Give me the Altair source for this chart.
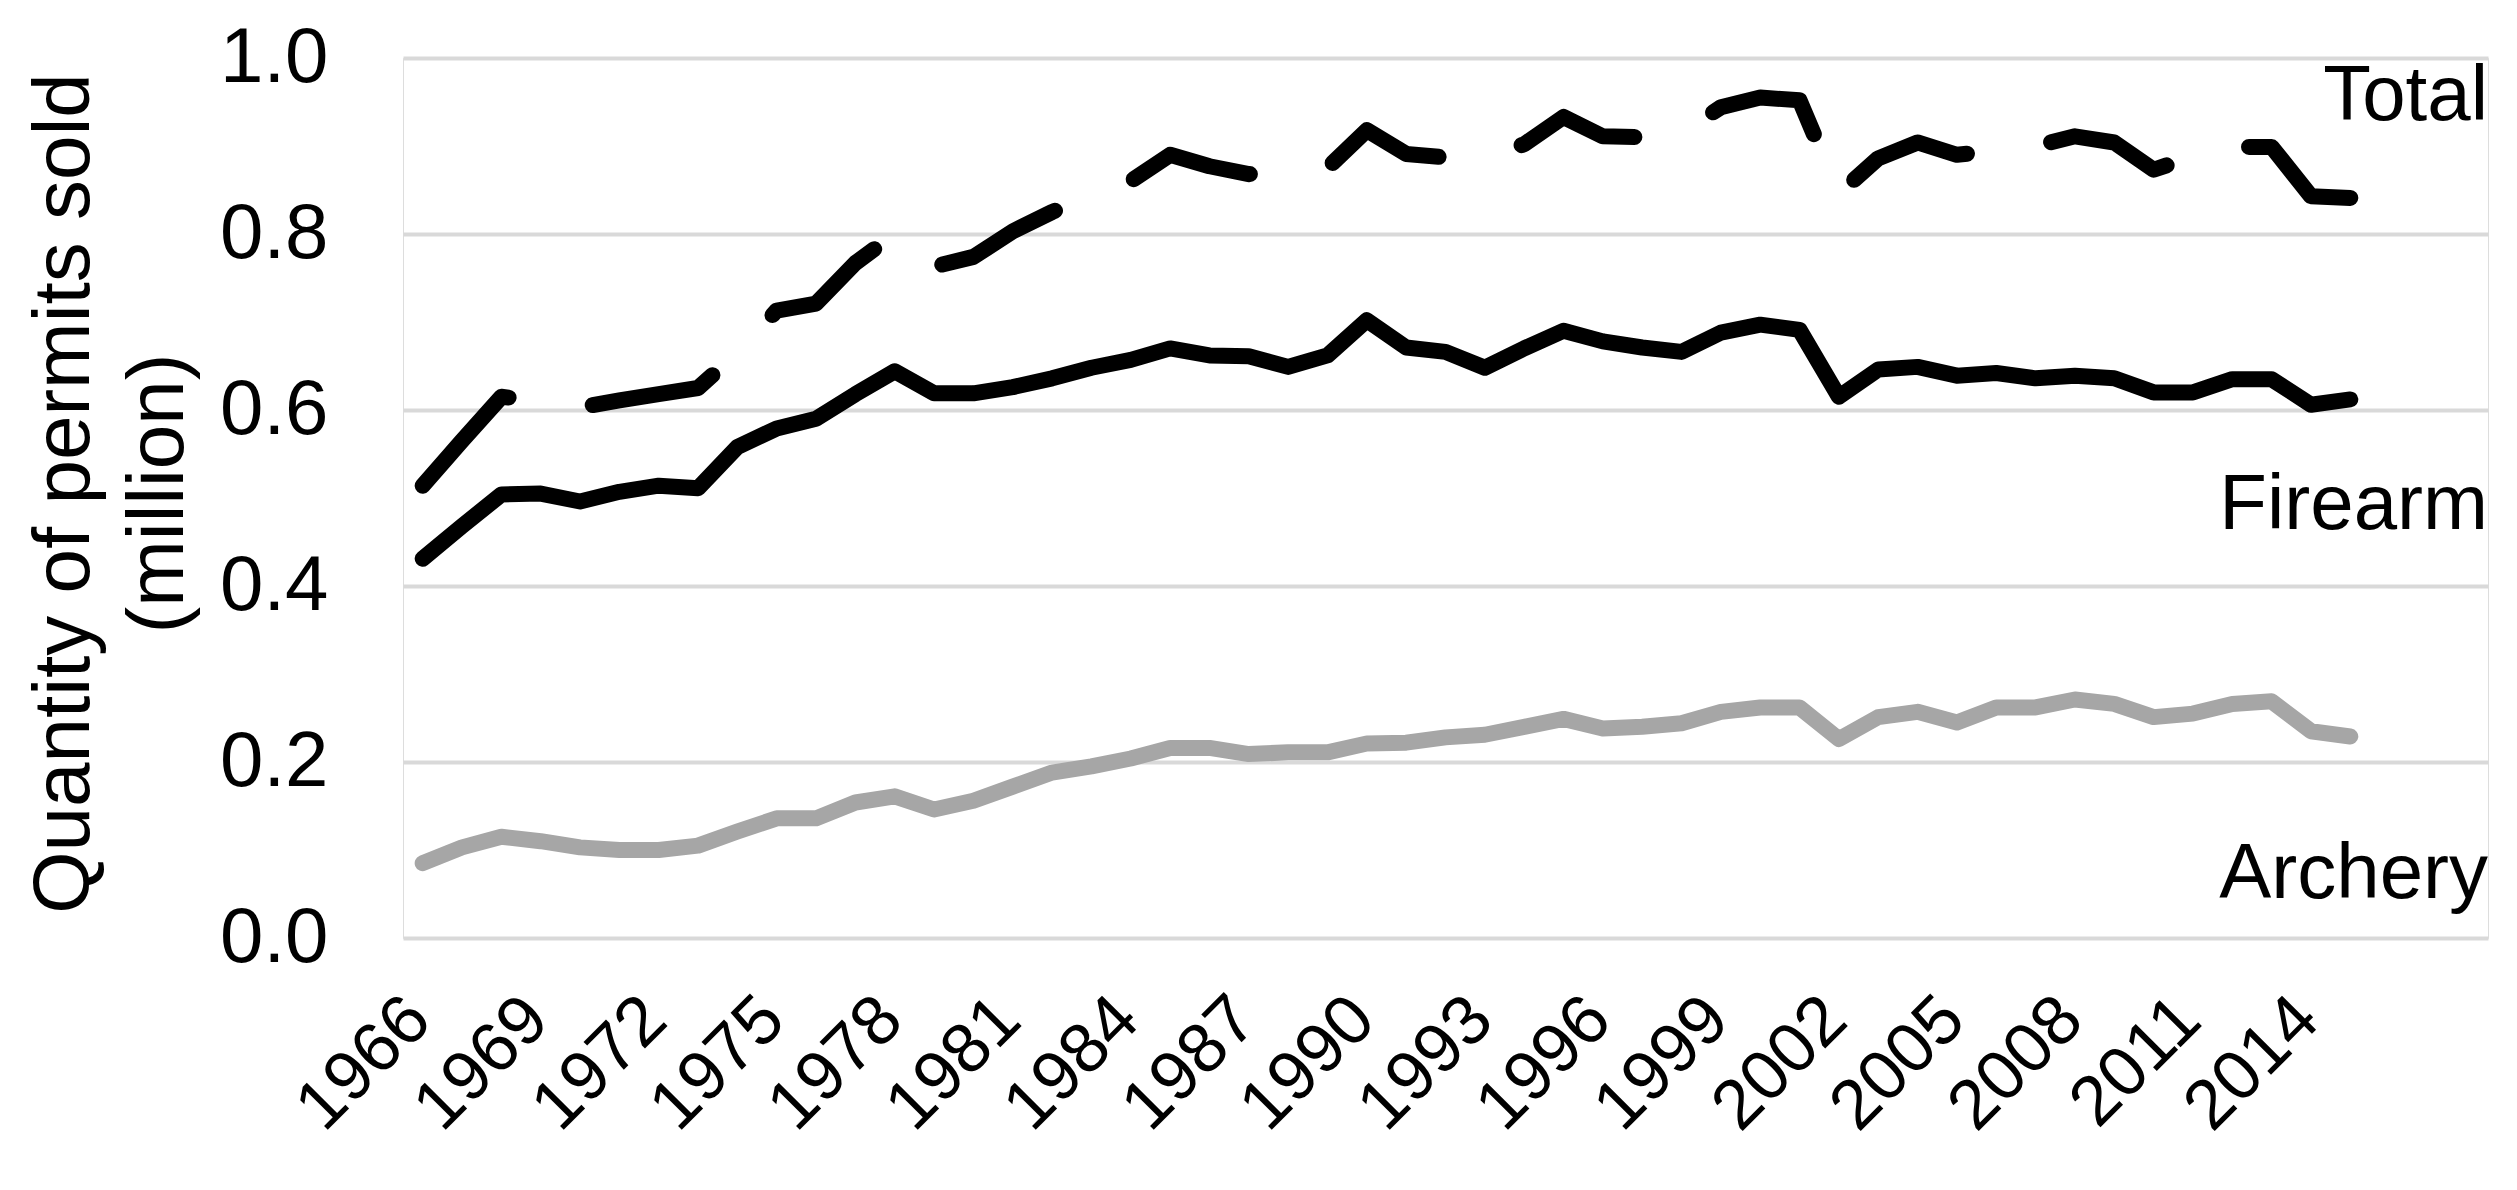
import altair as alt
import pandas as pd

years = list(range(1966, 2016))

total = [0.514, 0.565, 0.615, 0.610, 0.603, 0.611, 0.618, 0.625, 0.665, 0.713,
         0.721, 0.767, 0.800, 0.763, 0.774, 0.803, 0.825, 0.845, 0.860, 0.890,
         0.877, 0.868, 0.870, 0.875, 0.918, 0.891, 0.887, 0.887, 0.902, 0.933,
         0.911, 0.910, 0.915, 0.944, 0.955, 0.952, 0.846, 0.886, 0.904, 0.890,
         0.895, 0.900, 0.911, 0.904, 0.873, 0.888, 0.899, 0.899, 0.843, 0.841]

firearm = [0.431, 0.468, 0.504, 0.505, 0.496, 0.507, 0.514, 0.511, 0.558, 0.579,
           0.590, 0.618, 0.644, 0.619, 0.619, 0.626, 0.636, 0.648, 0.657, 0.670,
           0.662, 0.661, 0.649, 0.662, 0.702, 0.671, 0.666, 0.648, 0.670, 0.690,
           0.678, 0.671, 0.666, 0.688, 0.697, 0.691, 0.615, 0.646, 0.649, 0.639,
           0.642, 0.636, 0.639, 0.636, 0.620, 0.620, 0.635, 0.635, 0.606, 0.612]

archery = [0.085, 0.103, 0.115, 0.110, 0.103, 0.100, 0.100, 0.105, 0.121, 0.136,
           0.136, 0.154, 0.161, 0.146, 0.156, 0.172, 0.188, 0.195, 0.204, 0.216,
           0.216, 0.209, 0.211, 0.211, 0.221, 0.222, 0.228, 0.231, 0.240, 0.249,
           0.238, 0.240, 0.244, 0.257, 0.262, 0.262, 0.226, 0.251, 0.257, 0.245,
           0.262, 0.262, 0.271, 0.266, 0.251, 0.255, 0.266, 0.269, 0.235, 0.229]

tick_years = list(range(1966, 2015, 3))
y_ticks = [0.0, 0.2, 0.4, 0.6, 0.8, 1.0]

label_names = ["Total", "Firearm", "Archery"]
label_values = [0.93, 0.465, 0.045]

FONT = "Liberation Sans"
W, H = 2085, 880

df = pd.DataFrame({
    "year": years * 3,
    "value": total + firearm + archery,
    "series": ["Total"] * len(years) + ["Firearm"] * len(years) + ["Archery"] * len(years),
})
labels_df = pd.DataFrame({"name": label_names, "value": label_values})

x_enc = alt.X("year:Q",
              scale=alt.Scale(domain=[1965.5, 2018.5], nice=False, zero=False),
              axis=alt.Axis(values=tick_years, format="d", title=None, grid=False,
                            domain=False, ticks=False, labelAngle=315,
                            labelFont=FONT, labelFontSize=70, labelColor="black",
                            labelPadding=46, labelOffset=-28,
                            labelOverlap=False, labelFlush=False))
y_enc = alt.Y("value:Q",
              scale=alt.Scale(domain=[0, 1], nice=False),
              axis=alt.Axis(values=y_ticks, format=".1f",
                            title=["Quantity of permits sold", "(million)"],
                            titleFont=FONT, titleFontSize=80, titleFontWeight="normal",
                            titleColor="black", titleAngle=270, titleBaseline="top",
                            titleAlign="center", titleLineHeight=94,
                            titleX=-378, titleY=435,
                            grid=True, gridColor="#d9d9d9", gridWidth=4,
                            domain=False, ticks=False,
                            labelFont=FONT, labelFontSize=78, labelColor="black",
                            labelPadding=75, labelBaseline="middle"))

base = alt.Chart(df)

archery_line = base.transform_filter(alt.datum.series == "Archery").mark_line(
    color="#a6a6a6", strokeWidth=16, strokeCap="round", strokeJoin="round"
).encode(x=x_enc, y=y_enc)

firearm_line = base.transform_filter(alt.datum.series == "Firearm").mark_line(
    color="black", strokeWidth=16, strokeCap="round", strokeJoin="round"
).encode(x=x_enc, y=y_enc)

total_line = base.transform_filter(alt.datum.series == "Total").mark_line(
    color="black", strokeWidth=16, strokeCap="round", strokeJoin="round",
    strokeDash=[126, 85]
).encode(x=x_enc, y=y_enc)

text = alt.Chart(labels_df).mark_text(
    align="right", baseline="alphabetic", font=FONT, fontSize=78, color="black"
).encode(x=alt.value(W), y=alt.Y("value:Q", scale=alt.Scale(domain=[0, 1], nice=False)),
         text="name:N")

chart = alt.layer(archery_line, firearm_line, total_line, text).properties(
    width=W, height=H,
    padding={"left": 395, "top": 50, "right": 14, "bottom": 240},
    autosize=alt.AutoSizeParams(type="none"),
).configure_view(stroke=None).configure(background="white")

chart.save("out.html", embed_options={"renderer": "svg", "actions": False})
